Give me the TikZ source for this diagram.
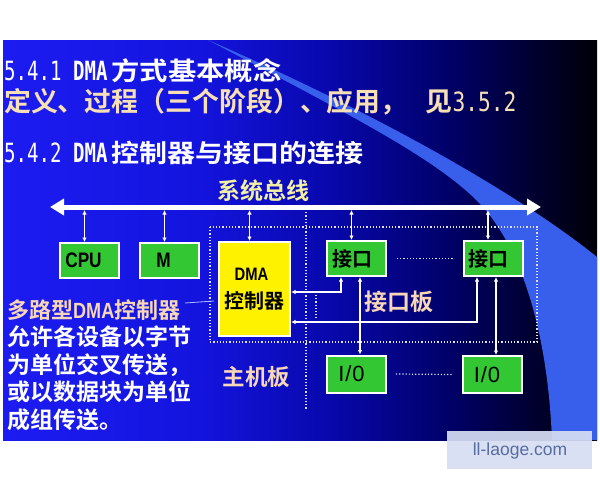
\documentclass[tikz,border=0pt]{standalone}
\usepackage{fontspec}
\setmainfont{Noto Sans CJK SC}[BoldFont={Noto Sans CJK SC Bold}]
\newfontfamily\cjkwide{Noto Sans CJK SC}[FakeStretch=1.12,BoldFont={Noto Sans CJK SC Bold}]
\newfontfamily\narrow{Liberation Sans}[FakeStretch=0.82]
\newfontfamily\hw{DejaVu Sans Mono}[FakeStretch=0.72]
\newfontfamily\hwb{DejaVu Sans Mono}[FakeStretch=0.80]
\newfontfamily\wmfont{Liberation Sans}
\usetikzlibrary{arrows.meta}
\definecolor{bgA}{RGB}{28,28,242}
\definecolor{bgB}{RGB}{20,20,222}
\definecolor{bgC}{RGB}{8,8,172}
\definecolor{bgD}{RGB}{0,0,105}
\definecolor{bgE}{RGB}{0,0,45}
\definecolor{bgF}{RGB}{0,0,8}
\definecolor{wedgeblue}{RGB}{55,95,235}
\definecolor{boxgreen}{RGB}{51,200,51}
\definecolor{cream}{RGB}{247,224,182}
\definecolor{peach}{RGB}{248,214,184}
\definecolor{paleyellow}{RGB}{242,240,165}
\definecolor{wmfill}{RGB}{214,222,244}
\definecolor{wmtext}{RGB}{88,108,160}
\definecolor{dotwhite}{RGB}{225,225,245}
\pgfdeclarehorizontalshading{slidebg}{100bp}{color(0bp)=(bgA); color(25bp)=(bgA); color(41.5bp)=(bgB); color(52.5bp)=(bgC); color(62.5bp)=(bgD); color(70bp)=(bgE); color(75bp)=(bgF); color(100bp)=(bgF)}
\begin{document}
\begin{tikzpicture}[x=1pt,y=-1pt,
  gbox/.style={draw=white, line width=2pt, fill=boxgreen, minimum width=59pt, minimum height=35pt, inner sep=0pt, text=black, font=\narrow\bfseries\fontsize{21}{24}\selectfont},
  conn/.style={draw=white, line width=1.3pt, <->, >={Latex[length=4.5pt,width=4.5pt]}},
  dotln/.style={draw=dotwhite, line width=1.2pt, dash pattern=on 1.2pt off 2pt},
  ttl/.style={anchor=west, inner sep=0pt},
  lbl/.style={inner sep=0pt, font=\bfseries\fontsize{23}{27}\selectfont},
  side/.style={anchor=west, inner sep=0pt, text=white, font=\bfseries\fontsize{23}{27}\selectfont}]
\useasboundingbox (0,0) rectangle (600,480);
\fill[white] (0,0) rectangle (600,480);
% slide background
\shade[shading=slidebg] (3,40) rectangle (597,440);
\fill[wedgeblue] (208,40) .. controls (380,115) and (520,195) .. (597,257) -- (597,440) -- (552,440)
  .. controls (548,340) and (525,255) .. (483,207) .. controls (440,160) and (350,115) .. (208,40) -- cycle;

% titles
\node[ttl, text=white] (t1) at (4,71) {{\hw\fontsize{26.5}{30}\selectfont 5.4.1 {\bfseries DMA}\kern4pt}{\cjkwide\bfseries\fontsize{25.3}{30}\selectfont 方式基本概念}};
\node[ttl, text=cream] (t2) at (4,102) {\bfseries\fontsize{26.9}{30}\selectfont 定义、过程（三个阶段）、应用，\hspace*{18pt}见{\hwb\mdseries\fontsize{26.5}{30}\selectfont 3.5.2}};
\node[ttl, text=white] (t3) at (4,153) {{\hw\fontsize{26.5}{30}\selectfont 5.4.2 {\bfseries DMA}\kern4pt}{\cjkwide\bfseries\fontsize{25}{30}\selectfont 控制器与接口的连接}};

% dotted frames
\draw[dotln] (210,227) rectangle (537,342);
\draw[dotln] (306,209) -- (306,410);
\draw[dotln] (316,295) -- (316,318);

% bus
\coordinate (busL) at (50,207);
\coordinate (busR) at (541,207);
\coordinate (busB) at (0,210);
\draw[white, line width=5pt, <->, >={Triangle[length=14pt,width=16pt]}] (busL) -- (busR);
\node[lbl, text=paleyellow] (bustxt) at (263,191) {系统总线};

% boxes
\node[gbox] (cpu) at (89.5,260.5) {CPU\hspace*{12pt}};
\node[gbox] (m) at (169.5,260.5) {M\hspace*{12pt}};
\node[draw=white, line width=2pt, fill=yellow, minimum width=71pt, minimum height=94pt, inner sep=0pt, align=center, text=black, font=\fontsize{20}{28}\selectfont] (dma) at (254.5,289)
  {{\narrow\bfseries\fontsize{18}{28}\selectfont DMA\hspace*{6pt}}\\{\bfseries 控制器}};
\node[gbox, font=\bfseries\fontsize{20}{24}\selectfont] (jk1) at (356.5,258.5) {接口\hspace*{9pt}};
\node[gbox, font=\bfseries\fontsize{20}{24}\selectfont] (jk2) at (493,258.5) {接口\hspace*{9pt}};
\node[gbox, minimum height=37pt, font=\wmfont\fontsize{22}{24}\selectfont] (io1) at (356.5,374) {I\kern1pt/\kern1pt0\hspace*{10pt}};
\node[gbox, minimum height=37pt, font=\wmfont\fontsize{22}{24}\selectfont] (io2) at (492,374.5) {I\kern1pt/\kern1pt0\hspace*{10pt}};

% bus connectors
\foreach \n in {cpu,m,dma,jk1,jk2}
  \draw[conn] ([xshift=-5pt]\n.north |- busB) -- ([xshift=-5pt]\n.north);

% interface connectors
\draw[conn] ([xshift=-15.5pt]jk1.south) |- ([yshift=-3pt]dma.east);
\draw[conn] ([xshift=-16pt]jk2.south) |- ([yshift=-33pt]dma.east);
\draw[conn] ([xshift=3.5pt]jk1.south) -- ([xshift=3.5pt]jk1.south |- io1.north);
\draw[conn] ([xshift=3pt]jk2.south) -- ([xshift=3pt]jk2.south |- io2.north);
\draw[dotln] ([xshift=10pt]jk1.east) -- ([xshift=-10pt]jk2.west);
\draw[dotln] ([xshift=9pt]io1.east) -- ([xshift=-10pt]io2.west);

% board labels
\node[lbl, text=peach] (jkb) at (398.5,302) {接口板};
\node[lbl, text=peach, font=\bfseries\fontsize{22.5}{27}\selectfont] (zjb) at (256.5,377) {主机板};

% side text
\node[side, text=peach, font=\bfseries\fontsize{22}{27}\selectfont] (s1) at (7,310) {多路型{\narrow DMA}控制器};
\node[side] (s2) at (7,337) {允许各设备以字节};
\node[side] (s3) at (7,365) {为单位交叉传送，};
\node[side] (s4) at (7,392) {或以数据块为单位};
\node[side] (s5) at (7,420) {成组传送。};
\coordinate (ptrA) at (185,303);
\draw[color={rgb,255:red,170;green,190;blue,255}, line width=0.8pt] (ptrA) -- ([xshift=-4pt,yshift=1pt]dma.west |- jkb);

% watermark
\fill[wmfill, opacity=0.92] (447,431) rectangle (592,469);
\node[inner sep=0pt, text=wmtext, font=\wmfont\fontsize{17.5}{20}\selectfont] (wm) at (520,451) {ll-laoge.com};
\end{tikzpicture}
\end{document}
